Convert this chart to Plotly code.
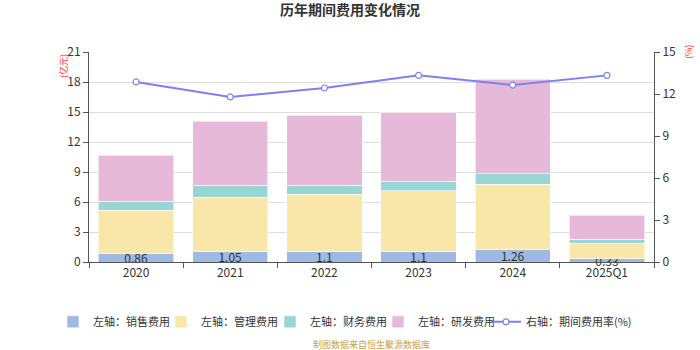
import plotly.graph_objects as go

years = ["2020", "2021", "2022", "2023", "2024", "2025Q1"]
sales = [0.86, 1.05, 1.1, 1.1, 1.26, 0.33]
admin = [4.34, 5.42, 5.67, 6.03, 6.51, 1.57]
finance = [0.90, 1.20, 0.90, 0.97, 1.06, 0.40]
rnd = [4.60, 6.43, 7.03, 6.90, 9.44, 2.40]
expense_rate = [12.86, 11.79, 12.43, 13.33, 12.64, 13.33]

left_ticks = [0, 3, 6, 9, 12, 15, 18, 21]
right_ticks = [0, 3, 6, 9, 12, 15]

FONT = "Noto Sans CJK SC"

fig = go.Figure()

# each series gets its own legend box so the entries can be spaced evenly
bar_specs = [
    ("左轴：销售费用", sales, "#9db9e4", "legend"),
    ("左轴：管理费用", admin, "#f8e7a8", "legend2"),
    ("左轴：财务费用", finance, "#98d5d5", "legend3"),
    ("左轴：研发费用", rnd, "#e7b9d9", "legend4"),
]
for name, vals, color, leg in bar_specs:
    show_text = vals is sales
    fig.add_trace(go.Bar(
        x=years, y=vals, name=name,
        marker=dict(color=color, line=dict(color="rgba(255,255,255,0.6)", width=1)),
        text=[str(v) for v in vals] if show_text else None,
        textposition="inside" if show_text else "none",
        insidetextanchor="middle",
        textangle=0,
        constraintext="none",
        cliponaxis=False,
        textfont=dict(color="#333333", size=12, family=FONT),
        width=0.8,
        yaxis="y",
        legend=leg,
        showlegend=True,
    ))

fig.add_trace(go.Scatter(
    x=years, y=expense_rate, name="右轴：期间费用率(%)",
    mode="lines+markers",
    line=dict(color="#7c80f4", width=2),
    marker=dict(symbol="circle", size=6, color="white",
                line=dict(color="#7c80f4", width=1.2)),
    yaxis="y2",
    legend="legend5",
    showlegend=True,
))


def legend_box(left_px):
    return dict(
        orientation="h", traceorder="normal",
        xref="container", x=left_px / 700, xanchor="left",
        y=-0.285, yanchor="middle",
        font=dict(size=11, color="#333333"),
        itemwidth=30,
        bgcolor="rgba(0,0,0,0)",
        visible=True,
    )


fig.update_layout(
    width=700, height=350,
    showlegend=True,
    barmode="stack",
    bargap=0.2,
    paper_bgcolor="white",
    plot_bgcolor="white",
    margin=dict(l=89, r=46, t=52, b=88, autoexpand=False),
    font=dict(family=FONT, color="#333333", size=12),
    uniformtext=dict(minsize=12, mode="show"),
    title=dict(text="<b>历年期间费用变化情况</b>", x=0.5, xanchor="center",
               y=0.985, yanchor="top", font=dict(size=14, color="#333333", family=FONT)),
    xaxis=dict(
        type="category",
        showline=True, linecolor="#555555", linewidth=1,
        ticks="outside", ticklen=5, tickcolor="#555555",
        tickson="boundaries",
        tickfont=dict(size=12, color="#333333"),
        showgrid=False,
    ),
    yaxis=dict(
        range=[0, 21], tickvals=left_ticks,
        showline=True, linecolor="#555555", linewidth=1,
        ticks="outside", ticklen=5, tickcolor="#555555",
        showgrid=True, gridcolor="#dddddd", gridwidth=1,
        zeroline=False,
        tickfont=dict(size=12, color="#333333"),
    ),
    yaxis2=dict(
        range=[0, 15], tickvals=right_ticks,
        overlaying="y", side="right",
        showline=True, linecolor="#555555", linewidth=1,
        ticks="outside", ticklen=5, tickcolor="#555555",
        showgrid=False, zeroline=False,
        tickfont=dict(size=12, color="#333333"),
    ),
    legend=legend_box(53),
    legend2=legend_box(161),
    legend3=legend_box(270),
    legend4=legend_box(378),
    legend5=legend_box(486),
    annotations=[
        dict(text="(亿元)", xref="paper", yref="paper", x=0, xshift=-26,
             xanchor="center", y=1, yanchor="top", showarrow=False, textangle=-90,
             font=dict(size=9, color="#ff3333")),
        dict(text="(%)", xref="paper", yref="paper", x=1, xshift=34,
             xanchor="center", y=1, yanchor="middle", showarrow=False, textangle=-90,
             font=dict(size=9, color="#ff3333")),
        dict(text="制图数据来自恒生聚源数据库", xref="paper", yref="paper",
             x=0.5, y=-0.395, yanchor="middle", showarrow=False,
             font=dict(size=9, color="#c9a24a")),
    ],
)

fig.write_html("out.html")
